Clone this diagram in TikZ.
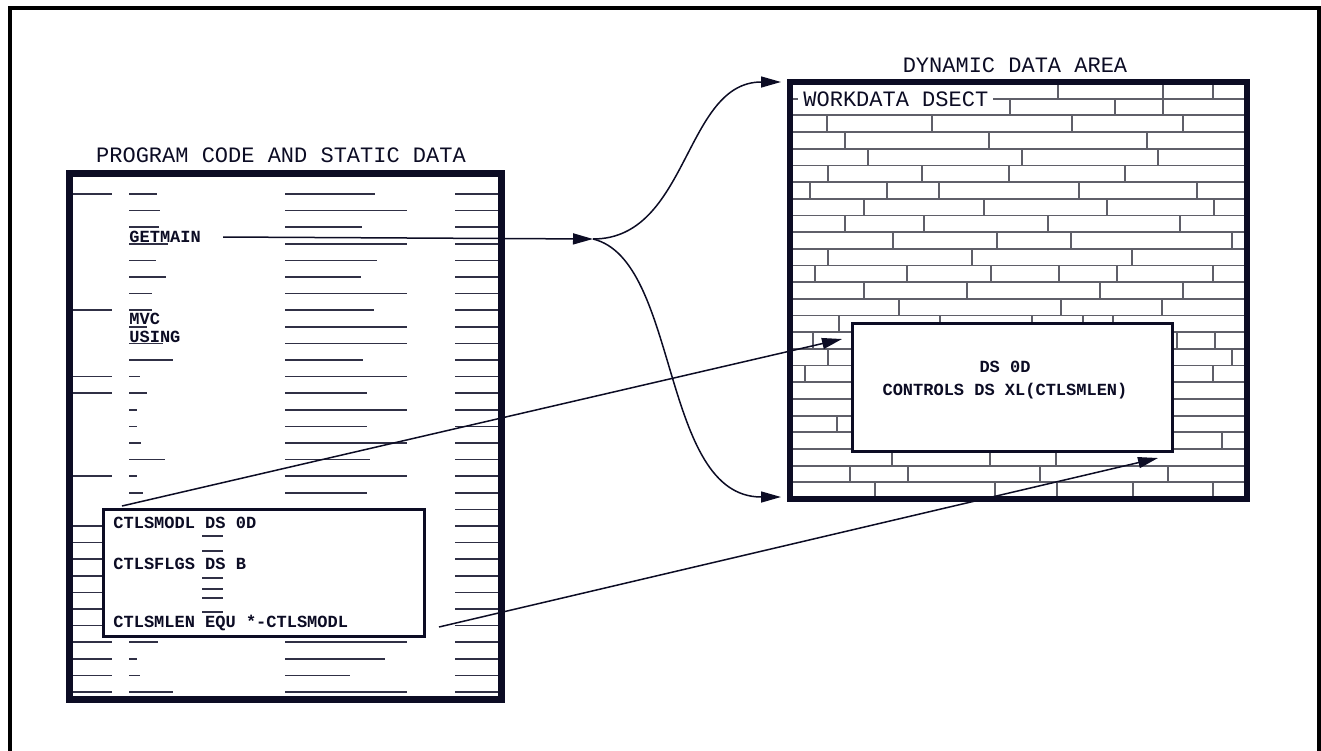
\documentclass[tikz,border=0pt]{standalone}
\usepackage{fontspec}
\setmonofont{Liberation Mono}
\usetikzlibrary{arrows.meta}
\definecolor{box_ink}{RGB}{12,12,36}
\definecolor{brick_grey}{RGB}{95,95,105}

\begin{document}
\begin{tikzpicture}[x=0.5pt,y=-0.5pt,
    codeline/.style={box_ink!85,line width=0.85pt},
    brick/.style={brick_grey,line width=0.9pt},
    link/.style={box_ink,line width=0.75pt,-{Triangle[length=10pt,width=5.5pt]}},
    heading/.style={font=\ttfamily\fontsize{11}{11}\selectfont,text=box_ink,inner sep=0pt},
    listing/.style={font=\ttfamily\bfseries\fontsize{8.5}{11.5}\selectfont,text=box_ink,inner sep=0pt},
    frame/.style={draw=box_ink,inner sep=0pt,outer sep=0pt}]
  \useasboundingbox (0,0) rectangle (1321,750);
  \clip (0,0) rectangle (1321,750);
  \draw[line width=2pt] (10,7.5) rectangle (1319,760);

  % program code and static data
  \foreach \i/\a/\b/\c in {0/1/157/375,1/0/160/407,2/0/159/362,3/0/168/407,4/0/156/377,
      5/0/166/361,6/0/152/407,7/1/152/374,8/0/147/407,9/0/163/407,10/0/173/363,
      11/1/140/407,12/1/147/367,13/0/137/407,14/0/137/367,15/0/141/407,16/0/165/370,
      17/1/137/407,18/0/143/367,19/0/0/0,20/1/0/0,21/1/0/0,22/1/0/0,23/1/0/0,
      24/1/0/0,25/1/0/0,26/1/0/0,27/1/158/407,28/1/137/385,29/1/140/350,30/1/173/407}{
    \pgfmathsetmacro\y{194+16.6*\i}
    \ifnum\a=1 \draw[codeline] (73,\y) -- (112,\y);\fi
    \ifnum\b>0 \draw[codeline] (129,\y) -- (\b,\y); \draw[codeline] (285,\y) -- (\c,\y);\fi
    \draw[codeline] (455,\y) -- (498,\y);
  }
  \node[frame,line width=3.4pt,minimum width=216pt,minimum height=263pt] (code) at (285.5,436.5) {};
  \node[heading] (codetitle) at (281,155) {PROGRAM CODE AND STATIC DATA};
  \node[listing,anchor=west] (getmain) at (129,237) {GETMAIN};
  \node[listing,anchor=west] (mvc) at (129,319) {MVC};
  \node[listing,anchor=west] (using) at (129,337) {USING};

  \node[frame,fill=white,line width=1.5pt,minimum width=160.5pt,minimum height=63.5pt] (ctls) at (263.5,572.5) {};
  \node[listing,anchor=west] (modl) at (113,523) {CTLSMODL DS 0D};
  \node[listing,anchor=west] (flgs) at (113,564) {CTLSFLGS DS B};
  \node[listing,anchor=west] (mlen) at (113,623) {CTLSMLEN EQU *-CTLSMODL};
  \foreach \y in {536,551,578,589,598,612}
    \draw[codeline] (202,\y) -- (223,\y);

  % dynamic data area
  \foreach \k in {1,...,24}
    \draw[brick] (793,{82+16.68*\k}) -- (1244,{82+16.68*\k});
  \foreach \r/\joints in {1/{1058,1163,1213},2/{1010,1115,1163},3/{827,932,1072,1183},
      4/{845,989,1147},5/{868,1022,1158},6/{828,922,1009,1125},7/{810,887,939,1079,1197},
      8/{864,984,1107,1214},9/{845,924,1048,1180},10/{893,997,1071,1232},11/{828,972,1132},
      12/{815,907,991,1059,1117,1213},13/{864,967,1100,1183},14/{899,1061,1162},
      15/{839,940,1032,1083,1113},16/{813,1177,1215},17/{828,1232},18/{805,1213},
      21/{837},22/{1222},23/{892,990,1056},24/{850,908,1040,1168},25/{875,995,1057,1133,1213}}
    \foreach \x in \joints
      \draw[brick] (\x,{82+16.68*(\r-1)}) -- (\x,{82+16.68*\r});
  \node[heading,fill=white,inner xsep=2.5pt,anchor=west] (dsect) at (798,99) {WORKDATA DSECT};
  \node[frame,line width=3pt,minimum width=228.5pt,minimum height=208.5pt] (dyn) at (1018.5,290.5) {};
  \node[heading] (dyntitle) at (1015,65) {DYNAMIC DATA AREA};
  \node[frame,fill=white,line width=1.5pt,minimum width=160pt,minimum height=64pt] (ctlarea) at (1012,387) {};
  \node[listing,align=center] (ctltext) at (1005,380) {DS 0D\\CONTROLS DS XL(CTLSMLEN)};

  % connectors
  \coordinate (fork) at (593,239);
  \coordinate (dyntop) at (781,82);
  \coordinate (dynbot) at (781,497);
  \coordinate (ctlstip) at (842,339);
  \coordinate (mlentip) at (1158,458);
  \coordinate (ctlsfoot) at (122,506);
  \coordinate (mlenfoot) at (439,627);
  \draw[link] ([xshift=11pt]getmain.east) -- (fork);
  \draw[link] (fork) .. controls (689,239) and (684,82) .. (dyntop);
  \draw[link] (fork) .. controls (680,260) and (660,497) .. (dynbot);
  \draw[link] (ctlsfoot) -- (ctlstip);
  \draw[link] (mlenfoot) -- (mlentip);
\end{tikzpicture}
\end{document}
